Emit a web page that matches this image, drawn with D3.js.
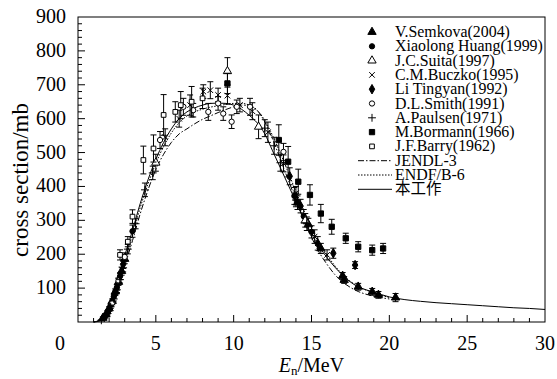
<!DOCTYPE html>
<html>
<head>
<meta charset="utf-8">
<script src="https://cdn.jsdelivr.net/npm/d3@7"></script>
<style>
  body { margin: 0; background: #fff; }
  svg text { font-family: "Liberation Serif", "DejaVu Serif", "Times New Roman", serif; }
  svg text.cjk { font-family: "Noto Sans CJK SC", sans-serif; }
</style>
</head>
<body>
<div id="chart"></div>
<script>
// ---- data (E in MeV, cross section in mb, error in mb) ----
const xTicks = [5, 10, 15, 20, 25, 30];
const yTicks = [100, 200, 300, 400, 500, 600, 700, 800, 900];

const semkova = [[1.6, 12, 3], [1.8, 22, 4], [2.0, 40, 5], [2.2, 62, 6], [2.4, 90, 8], [2.6, 118, 10],
  [2.8, 150, 12], [3.0, 186, 14], [14.1, 352, 20], [14.8, 288, 18], [15.6, 217, 15], [17.0, 136, 10],
  [17.1, 124, 10], [18.0, 104, 10], [18.9, 89, 10], [19.3, 80, 10], [20.4, 72, 12]];
const huang = [[1.7, 15, 3], [1.9, 30, 4], [2.1, 50, 5], [2.3, 76, 6], [2.5, 102, 8], [2.7, 135, 10],
  [3.5, 268, 18], [13.9, 372, 25], [14.5, 312, 20], [15.0, 266, 18]];
const suita = [[5.0, 470, 25], [9.6, 740, 40], [11.6, 576, 35], [14.6, 300, 20]];
const buczko = [[5.6, 545, 25], [6.5, 600, 25], [7.2, 640, 30], [8.05, 680, 20], [8.5, 684, 25],
  [9.0, 670, 20], [9.6, 668, 25], [10.4, 640, 20], [11.2, 622, 25], [12.2, 560, 30], [13.2, 468, 25],
  [14.0, 380, 20], [15.2, 252, 20], [16.0, 198, 15]];
const tingyan = [[2.0, 36, 4], [2.4, 86, 8], [2.9, 170, 12], [13.6, 430, 25], [14.3, 342, 20],
  [15.4, 232, 20], [16.4, 203, 15], [17.8, 168, 10]];
const smith = [[2.2, 56, 5], [2.6, 122, 8], [3.0, 192, 12], [5.27, 537, 25], [6.77, 635, 25],
  [7.4, 625, 20], [8.37, 620, 25], [9.0, 645, 20], [9.33, 615, 20], [9.87, 591, 20], [10.2, 635, 20],
  [11.05, 635, 25], [13.2, 502, 25]];
const paulsen = [[1.5, 5, 2], [1.7, 12, 3], [1.9, 25, 4], [2.1, 45, 5], [2.3, 68, 6], [2.5, 95, 8],
  [2.7, 125, 10], [2.9, 160, 12], [3.2, 215, 14], [3.7, 290, 15], [4.3, 390, 20], [4.8, 440, 20],
  [12.0, 572, 25], [12.6, 520, 25], [13.0, 470, 25], [14.0, 360, 20], [14.7, 290, 20]];
const bormann = [[9.6, 704, 30], [12.9, 537, 45], [13.5, 473, 45], [14.15, 414, 37], [14.9, 375, 30],
  [15.6, 320, 27], [16.3, 281, 22], [17.2, 247, 15], [18.0, 222, 15], [18.9, 212, 15], [19.6, 217, 15]];
const barry = [[2.7, 198, 15], [3.2, 237, 15], [3.5, 311, 20], [4.2, 478, 41], [4.85, 512, 40],
  [5.5, 611, 60], [6.25, 620, 30], [6.6, 640, 40], [7.3, 650, 45], [8.0, 660, 30]];

const thisWork = [[1.0, 0], [1.5, 8], [2, 50], [2.5, 110], [3, 195], [3.5, 270], [4, 350], [4.5, 420],
  [5, 480], [5.5, 530], [6, 570], [6.5, 600], [7, 620], [7.5, 632], [8, 640], [8.5, 645], [9, 646],
  [9.5, 645], [10, 640], [10.5, 628], [11, 610], [11.5, 588], [12, 555], [12.5, 505], [13, 455],
  [13.5, 405], [14, 355], [14.5, 305], [15, 260], [15.5, 222], [16, 190], [16.5, 162], [17, 138],
  [17.5, 118], [18, 104], [18.5, 95], [19, 88], [20, 74], [21, 66], [22, 61], [23, 57], [24, 54],
  [25, 51], [26, 48], [27, 45], [28, 42], [29, 40], [30, 37]];
const jendl = [[1.0, 0], [1.5, 5], [2, 35], [2.5, 90], [3, 165], [3.5, 240], [4, 320], [4.5, 390],
  [5, 450], [5.5, 495], [6, 530], [6.5, 555], [7, 570], [7.5, 585], [8, 598], [8.5, 608], [9, 618],
  [9.5, 627], [10, 635], [10.5, 640], [11, 638], [11.5, 625], [12, 590], [12.5, 540], [13, 480],
  [13.5, 420], [14, 360], [14.5, 300], [15, 250], [15.5, 205], [16, 170], [16.5, 140], [17, 118],
  [17.5, 102], [18, 90], [18.5, 82], [19, 76], [20, 68]];
const endf = [[1.0, 0], [1.5, 6], [2, 42], [2.5, 100], [3, 180], [3.5, 258], [4, 338], [4.5, 408],
  [5, 468], [5.5, 518], [6, 558], [6.5, 588], [7, 608], [7.5, 620], [8, 628], [8.5, 634], [9, 638],
  [9.5, 642], [10, 645], [10.5, 645], [11, 640], [11.5, 625], [12, 595], [12.5, 550], [13, 498],
  [13.5, 442], [14, 385], [14.5, 330], [15, 280], [15.5, 236], [16, 198], [16.5, 166], [17, 140],
  [17.5, 120], [18, 105], [19, 86], [20, 72]];

const seriesNames = ['V.Semkova(2004)', 'Xiaolong Huang(1999)', 'J.C.Suita(1997)', 'C.M.Buczko(1995)',
  'Li Tingyan(1992)', 'D.L.Smith(1991)', 'A.Paulsen(1971)', 'M.Bormann(1966)', 'J.F.Barry(1962)'];
const curveNames = ['JENDL-3', 'ENDF/B-6', '本工作'];

// ---- layout ----
const W = 557, H = 379;
const margin = { top: 17, right: 12, bottom: 57, left: 78 };
const width = W - margin.left - margin.right;
const height = H - margin.top - margin.bottom;

const svg = d3.select('#chart').append('svg').attr('width', W).attr('height', H);
const g = svg.append('g').attr('transform', `translate(${margin.left},${margin.top})`);

const x = d3.scaleLinear().domain([0, 30]).range([0, width]);
const y = d3.scaleLinear().domain([0, 900]).range([height, 0]);

// symbol styles: [d3 symbol type, size, filled]
const styles = [
  [d3.symbolTriangle, 30, true],
  [d3.symbolCircle, 22, true],
  [d3.symbolTriangle, 30, false],
  [d3.symbolTimes, 22, false],
  [d3.symbolDiamond, 26, true],
  [d3.symbolCircle, 22, false],
  [d3.symbolPlus, 22, false],
  [d3.symbolSquare, 28, true],
  [d3.symbolSquare, 22, false]
];
const allSeries = [semkova, huang, suita, buczko, tingyan, smith, paulsen, bormann, barry];

function drawSymbol(sel, i, cx, cy) {
  const [type, size, filled] = styles[i];
  const strokeOnly = type === d3.symbolTimes || type === d3.symbolPlus;
  sel.append('path')
    .attr('d', d3.symbol(type, size)())
    .attr('transform', `translate(${cx},${cy})`)
    .attr('fill', filled ? '#000' : (strokeOnly ? 'none' : '#fff'))
    .attr('stroke', '#000')
    .attr('stroke-width', 1);
}

// scale a text's font so its rendered width hits a target (font metrics vary)
function fitWidth(textSel, target, base) {
  const w = textSel.node().getComputedTextLength();
  return w > 0 ? Math.max(10, Math.min(24, base * target / w)) : base;
}

// frame
g.append('rect').attr('width', width).attr('height', height)
  .attr('fill', 'none').attr('stroke', '#000').attr('stroke-width', 1);

// ticks (inward)
const xMinor = d3.range(1, 30, 1);
const yMinor = d3.range(20, 900, 20);
g.selectAll('.xt').data(xMinor).join('line')
  .attr('x1', d => x(d)).attr('x2', d => x(d))
  .attr('y1', height).attr('y2', d => height - (d % 5 === 0 ? 7 : 4))
  .attr('stroke', '#000');
g.selectAll('.yt').data(yMinor).join('line')
  .attr('y1', d => y(d)).attr('y2', d => y(d))
  .attr('x1', 0).attr('x2', d => (d % 100 === 0 ? 7 : 4))
  .attr('stroke', '#000');

// tick labels
g.selectAll('.xl').data(xTicks).join('text')
  .attr('x', d => x(d)).attr('y', height + 28)
  .attr('text-anchor', 'middle').attr('font-size', '20px').text(d => d);
g.selectAll('.yl').data(yTicks).join('text')
  .attr('x', -12).attr('y', d => y(d) + 6)
  .attr('text-anchor', 'end').attr('font-size', '20px').text(d => d);
g.append('text').attr('x', -18).attr('y', height + 28)
  .attr('text-anchor', 'middle').attr('font-size', '20px').text('0');

// axis titles
const xt = g.append('text').attr('x', width / 2).attr('y', height + 50)
  .attr('text-anchor', 'middle').attr('font-size', '20px');
xt.append('tspan').attr('font-style', 'italic').text('E');
xt.append('tspan').attr('font-size', '13px').attr('dy', 3).text('n');
xt.append('tspan').attr('dy', -3).text('/MeV');

const yTitle = svg.append('text')
  .attr('transform', 'translate(28,180) rotate(-90)')
  .attr('text-anchor', 'middle').attr('font-size', '20px')
  .text('cross section/mb');
yTitle.attr('font-size', fitWidth(yTitle, 154, 20) + 'px');

// curves
const line = d3.line().x(d => x(d[0])).y(d => y(d[1])).curve(d3.curveMonotoneX);
const curveStyles = [
  [jendl, '6,2,1.5,2'],
  [endf, '1.5,1.5'],
  [thisWork, null]
];
curveStyles.forEach(([data, dash]) => {
  g.append('path').datum(data).attr('d', line)
    .attr('fill', 'none').attr('stroke', '#000').attr('stroke-width', 1)
    .attr('stroke-dasharray', dash);
});

// data points with error bars
allSeries.forEach((data, i) => {
  const sg = g.append('g');
  data.forEach(([e, v, err]) => {
    const cx = x(e), y1 = y(v + err), y2 = y(v - err);
    sg.append('line').attr('x1', cx).attr('x2', cx).attr('y1', y1).attr('y2', y2).attr('stroke', '#000');
    sg.append('line').attr('x1', cx - 3).attr('x2', cx + 3).attr('y1', y1).attr('y2', y1).attr('stroke', '#000');
    sg.append('line').attr('x1', cx - 3).attr('x2', cx + 3).attr('y1', y2).attr('y2', y2).attr('stroke', '#000');
    drawSymbol(sg, i, cx, y(v));
  });
});

// legend
const lg = svg.append('g');
const rowY = i => 32 + i * 14.3;
const legendTexts = [];
seriesNames.forEach((name, i) => {
  drawSymbol(lg, i, 372, rowY(i));
  legendTexts.push(lg.append('text').attr('x', 395).attr('y', rowY(i) + 5)
    .attr('font-size', '15px').text(name));
});
curveStyles.forEach(([, dash], j) => {
  const i = seriesNames.length + j;
  lg.append('line').attr('x1', 358).attr('x2', 392)
    .attr('y1', rowY(i)).attr('y2', rowY(i))
    .attr('stroke', '#000').attr('stroke-dasharray', dash);
  const t = lg.append('text').attr('x', 395).attr('y', rowY(i) + 5)
    .attr('class', j === 2 ? 'cjk' : null)
    .attr('font-size', j === 2 ? '15.5px' : '15px')
    .text(curveNames[j]);
  if (j < 2) legendTexts.push(t);
});
// longest entry ("Xiaolong Huang(1999)") reaches the frame in the original
const legendSize = fitWidth(legendTexts[1], 148, 15);
legendTexts.forEach(t => t.attr('font-size', legendSize + 'px'));
</script>
</body>
</html>
